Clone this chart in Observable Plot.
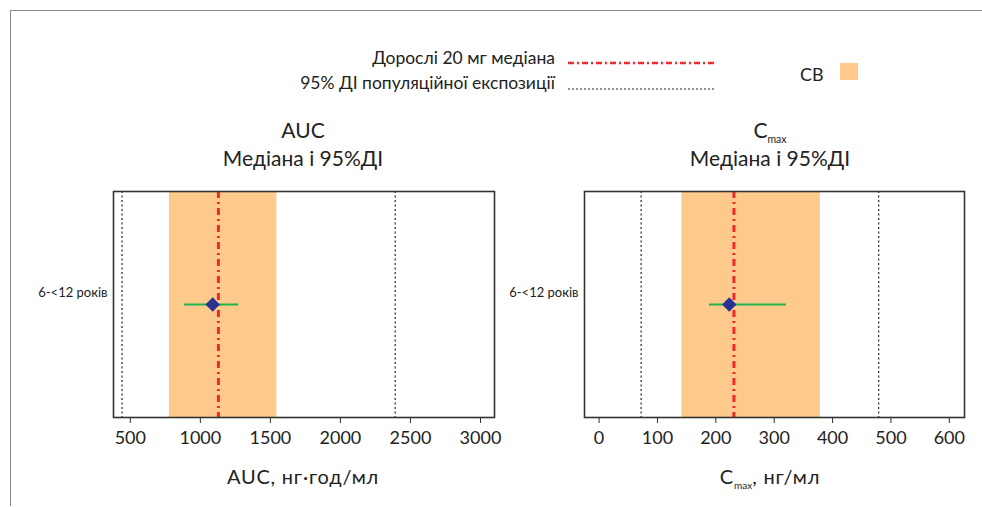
<!DOCTYPE html>
<html>
<head>
<meta charset="utf-8">
<script src="https://cdn.jsdelivr.net/npm/d3@7"></script>
<script src="https://cdn.jsdelivr.net/npm/@observablehq/plot@0.6"></script>
<style>
  html, body { margin: 0; padding: 0; background: #fff; }
  #wrap { position: relative; width: 982px; height: 507px; overflow: hidden; font-family: Lato, "Open Sans", sans-serif; color: #222; }
  .abs { position: absolute; white-space: nowrap; }
  .plot { position: absolute; top: 0; }
  .sub { font-size: 0.5em; position: relative; top: 0.45em; letter-spacing: 0; }
</style>
</head>
<body>
<div id="wrap">
  <div class="abs" style="left:10px;top:10px;width:980px;height:495px;border-top:1.5px solid #8a8a8a;border-left:1.5px solid #8a8a8a;"></div>
</div>
<script>
// ---- Data ----
const groups = ["6-<12 років"];
const aucMedian = [1088];
const aucLow = [888];
const aucHigh = [1274];
const aucAdultMedian = [1129];
const aucPopCI = [441, 2391];
const aucBE = [779, 1546];
const aucTicks = [500, 1000, 1500, 2000, 2500, 3000];

const cmaxMedian = [223];
const cmaxLow = [189];
const cmaxHigh = [321];
const cmaxAdultMedian = [231];
const cmaxPopCI = [72, 479];
const cmaxBE = [142, 379];
const cmaxTicks = [0, 100, 200, 300, 400, 500, 600];

const legendLabels = ["Дорослі 20 мг медіана", "95% ДІ популяційної експозиції"];
const beLabel = "СВ";

const colors = { band: "#FDCA8C", red: "#EE2A2E", green: "#1DB24B", point: "#2B3192", frame: "#333" };

function rows(med, lo, hi) {
  return groups.map((g, i) => ({ group: g, median: med[i], lo: lo[i], hi: hi[i] }));
}

function panel({ width, marginLeft, marginRight, domain, ticks, med, lo, hi, adult, popCI, be }) {
  const data = rows(med, lo, hi);
  return Plot.plot({
    width, height: 507,
    marginLeft, marginRight, marginTop: 191, marginBottom: 90,
    style: { fontFamily: "Lato, 'Open Sans', sans-serif", color: "#222", background: "transparent" },
    x: { domain, ticks },
    y: { type: "point", domain: groups },
    marks: [
      Plot.rect([{ a: be[0], b: be[1] }], { x1: "a", x2: "b", fill: colors.band }),
      Plot.ruleX(popCI, { stroke: "#222", strokeWidth: 1.2, strokeDasharray: "2,2.5" }),
      Plot.ruleX(adult, { stroke: colors.red, strokeWidth: 3, strokeDasharray: "7,4,2,4" }),
      Plot.ruleY(data, { y: "group", x1: "lo", x2: "hi", stroke: colors.green, strokeWidth: 2 }),
      Plot.dot(data, { x: "median", y: "group", symbol: "diamond2", r: 6.5, fill: colors.point, stroke: "none" }),
      Plot.frame({ stroke: colors.frame, strokeWidth: 1.6 }),
      Plot.axisX({ ticks, tickFormat: d3.format("d"), tickSize: 6, tickPadding: 8, fontSize: 18, label: null, stroke: "#333" }),
      Plot.axisY({ tickSize: 0, tickPadding: 6, fontSize: 13, dy: -12, label: null })
    ]
  });
}

const wrap = document.getElementById("wrap");

const p1 = panel({ width: 520, marginLeft: 113, marginRight: 26, domain: [380, 3100], ticks: aucTicks,
  med: aucMedian, lo: aucLow, hi: aucHigh, adult: aucAdultMedian, popCI: aucPopCI, be: aucBE });
p1.classList.add("plot"); p1.style.left = "0px";
wrap.appendChild(p1);

const p2 = panel({ width: 502, marginLeft: 104, marginRight: 18, domain: [-25, 626], ticks: cmaxTicks,
  med: cmaxMedian, lo: cmaxLow, hi: cmaxHigh, adult: cmaxAdultMedian, popCI: cmaxPopCI, be: cmaxBE });
p2.classList.add("plot"); p2.style.left = "480px";
wrap.appendChild(p2);

function addText(html, css) {
  const d = document.createElement("div");
  d.className = "abs";
  d.innerHTML = html;
  Object.assign(d.style, css);
  wrap.appendChild(d);
  return d;
}

// Titles
addText("AUC", { left: "153px", width: "300px", top: "117px", textAlign: "center", fontSize: "21px", lineHeight: "26px" });
addText("Медіана і 95%ДІ", { left: "153px", width: "300px", top: "145px", textAlign: "center", fontSize: "21px", lineHeight: "26px" });
addText("C<span class='sub'>max</span>", { left: "620px", width: "300px", top: "117px", textAlign: "center", fontSize: "21px", lineHeight: "26px" });
addText("Медіана і 95%ДІ", { left: "620px", width: "300px", top: "145px", textAlign: "center", fontSize: "21px", lineHeight: "26px" });

// Axis labels
addText("AUC, нг·год/мл", { left: "153px", width: "300px", top: "464px", textAlign: "center", fontSize: "20px", lineHeight: "24px", letterSpacing: "0.8px" });
addText("C<span class='sub'>max</span>, нг/мл", { left: "620px", width: "300px", top: "464px", textAlign: "center", fontSize: "20px", lineHeight: "24px", letterSpacing: "0.8px" });

// Legend
addText(legendLabels[0], { right: "427px", top: "47px", textAlign: "right", fontSize: "17.5px" });
addText(legendLabels[1], { right: "427px", top: "72px", textAlign: "right", fontSize: "17.5px" });
const lg = document.createElementNS("http://www.w3.org/2000/svg", "svg");
lg.setAttribute("width", "160"); lg.setAttribute("height", "40");
lg.style.position = "absolute"; lg.style.left = "566px"; lg.style.top = "55px";
lg.innerHTML = `<line x1="2" x2="150" y1="8" y2="8" stroke="${colors.red}" stroke-width="2.5" stroke-dasharray="6,3,2,3"/>
<line x1="2" x2="150" y1="34" y2="34" stroke="#222" stroke-width="1" stroke-dasharray="2,2"/>`;
wrap.appendChild(lg);

addText(beLabel, { left: "800px", top: "63px", fontSize: "18px" });
addText("", { left: "840px", top: "63px", width: "18px", height: "17px", background: colors.band });
</script>
</body>
</html>
